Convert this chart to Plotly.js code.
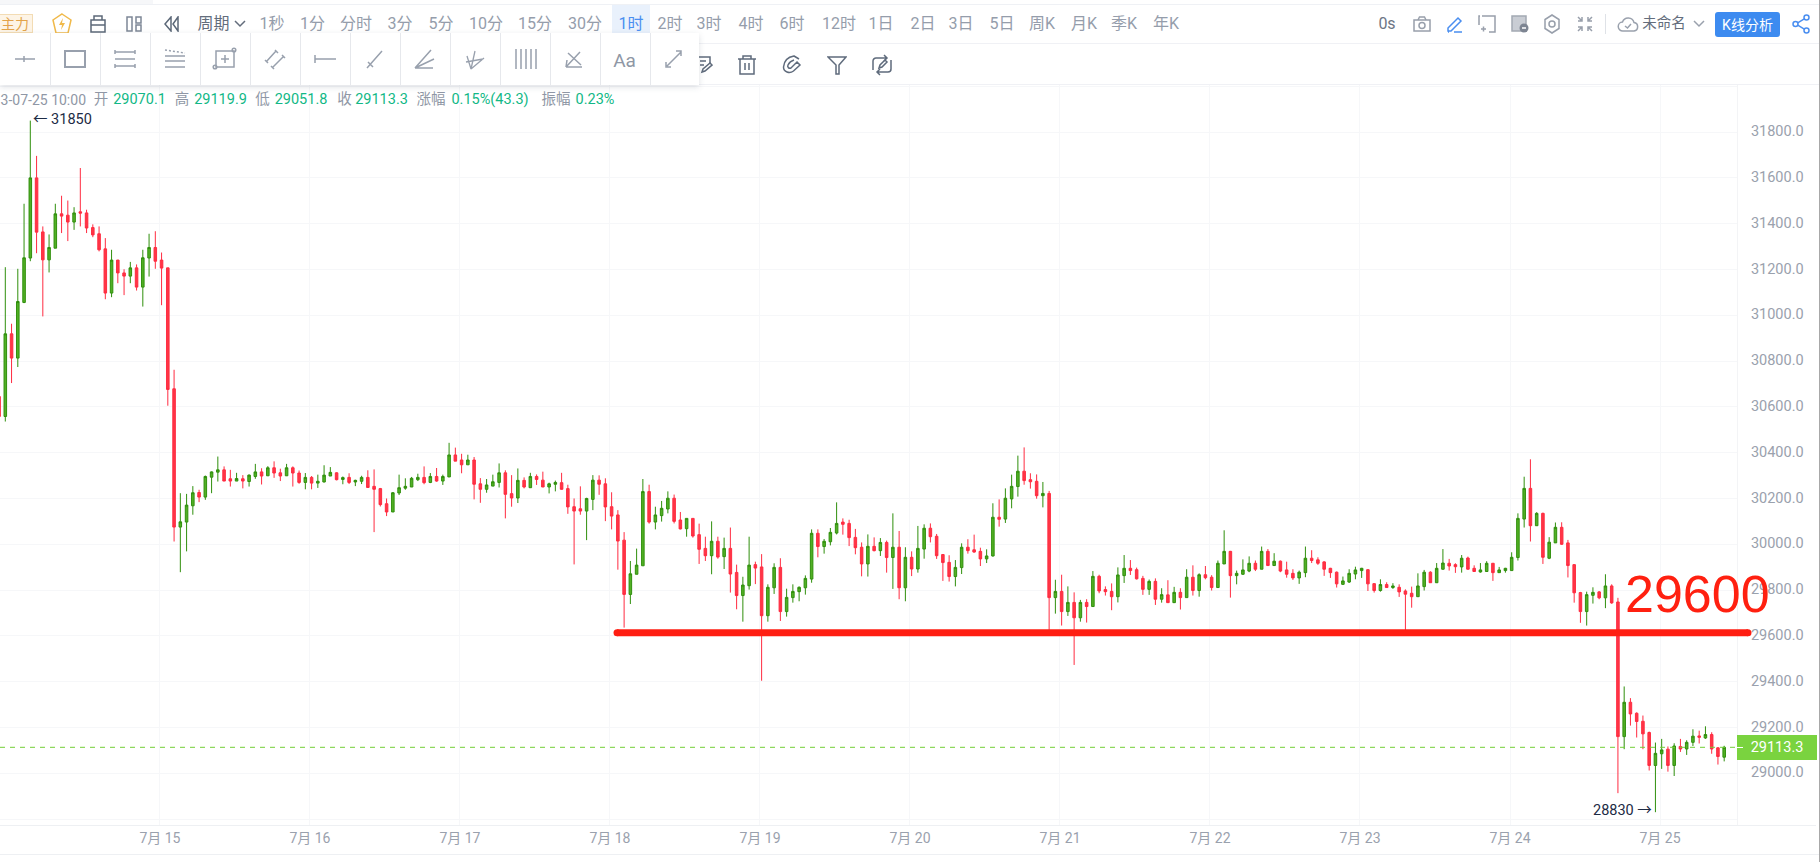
<!DOCTYPE html>
<html><head><meta charset="utf-8">
<script src="https://cdn.plot.ly/plotly-3.0.1.min.js"></script>
<style>
html,body{margin:0;padding:0;background:#fff;width:1820px;height:862px;overflow:hidden;font-family:Roboto,"Noto Sans CJK SC",sans-serif}
#chart{position:absolute;left:0;top:0;width:1820px;height:862px}
#ui{position:absolute;left:0;top:0;width:1820px;height:862px;pointer-events:none}
.t{position:absolute;white-space:nowrap;transform:translate(-50%,-50%);line-height:1}
.b{position:absolute}
.i{position:absolute;transform:translate(-50%,-50%);display:block}
</style></head><body>
<div id="chart"></div><div id="ui"></div>
<script>
// ---- hourly candles, first one 2023-07-13 22:00, last one 2023-07-25 10:00 ----
var firstHour = Date.UTC(2023, 6, 13, 22);
var openPrices = [
30645,30558,30919,30813,31056,31250,31600,31364,31242,31293,
31443,31437,31407,31452,31447,31383,31356,31290,31097,31241,
31185,31171,31207,31123,31250,31296,31241,31207,30679,30075,
30097,30168,30226,30206,30293,30315,30325,30286,30276,30286,
30274,30296,30316,30299,30334,30312,30299,30334,30311,30270,
30292,30267,30272,30298,30312,30283,30292,30272,30275,30292,
30253,30243,30177,30141,30224,30245,30250,30282,30292,30270,
30296,30276,30294,30390,30368,30347,30368,30264,30240,30254,
30270,30312,30221,30202,30279,30247,30296,30280,30250,30262,
30269,30243,30164,30155,30145,30196,30280,30264,30164,30128,
30018,29781,29869,29906,30230,30097,30125,30154,30201,30106,
30068,30113,30042,29982,29950,30013,29946,29982,29877,29776,
29819,29911,29901,29688,29810,29899,29706,29767,29793,29810,
29848,30048,29990,30011,30049,30097,30091,30030,29987,29914,
29991,29972,30008,29942,29987,29810,29943,29892,29979,30070,
30035,29955,29921,29859,29898,29987,29976,29969,29936,29949,
30118,30110,30198,30252,30319,30282,30275,30212,30222,29767,
29794,29706,29746,29679,29746,29728,29860,29802,29794,29771,
29863,29895,29889,29851,29803,29838,29760,29779,29745,29790,
29767,29856,29798,29867,29856,29811,29914,29969,29863,29869,
29883,29917,29891,29969,29907,29926,29888,29873,29853,29876,
29939,29932,29923,29895,29878,29825,29835,29870,29885,29889,
29828,29798,29824,29811,29812,29796,29786,29771,29815,29878,
29832,29891,29917,29911,29901,29940,29895,29879,29881,29917,
29876,29885,29885,29942,30110,30244,30081,30135,29939,30006,
30074,30006,29911,29789,29706,29777,29792,29766,29818,29748,
29160,29310,29262,29227,29178,29034,29085,29105,29034,29117,
29106,29135,29163,29154,29169,29111,29070.1];
var highPrices = [
30660,31210,30963,31203,31487,31850,31696,31388,31353,31487,
31522,31501,31472,31643,31461,31397,31388,31337,31286,31242,
31201,31233,31222,31286,31356,31367,31274,31207,30762,30223,
30220,30254,30238,30300,30318,30383,30340,30325,30312,30302,
30305,30351,30332,30341,30362,30330,30351,30340,30322,30311,
30298,30304,30345,30337,30314,30296,30310,30282,30299,30323,
30327,30246,30200,30228,30304,30288,30294,30308,30340,30311,
30333,30304,30443,30422,30395,30391,30381,30289,30285,30304,
30353,30323,30302,30331,30292,30312,30305,30317,30269,30278,
30312,30260,30200,30253,30203,30302,30301,30288,30227,30149,
30053,29927,29981,30285,30260,30164,30189,30231,30217,30141,
30113,30113,30090,30033,30100,30033,30029,30073,29911,29858,
30033,29924,29957,29825,29917,29939,29806,29825,29816,29864,
30065,30065,30023,30071,30183,30113,30107,30067,30008,30043,
30030,30027,30016,30135,30058,29987,29969,30080,30087,30091,
30045,29957,29952,29931,30004,30022,30042,29985,29978,30179,
30196,30244,30304,30387,30423,30310,30305,30272,30233,29845,
29867,29816,29790,29757,29760,29883,29867,29816,29829,29899,
29953,29931,29898,29862,29846,29851,29808,29843,29814,29808,
29891,29908,29873,29905,29865,29929,30061,29971,29885,29934,
29947,29929,29990,29979,29961,29929,29924,29891,29885,29990,
29974,29943,29926,29897,29881,29859,29891,29902,29897,29891,
29830,29847,29834,29830,29825,29803,29815,29873,29888,29882,
29918,29979,29936,29917,29953,29946,29908,29918,29926,29918,
29901,29897,29965,30135,30295,30371,30140,30138,30031,30095,
30096,30019,29913,29792,29793,29812,29796,29869,29825,29766,
29379,29328,29266,29252,29182,29134,29150,29117,29131,29150,
29144,29192,29186,29205,29179,29114,29119.9];
var lowPrices = [
30540,30536,30704,30774,31053,31236,31271,30995,31187,31293,
31359,31324,31373,31388,31359,31341,31279,31070,31079,31140,
31088,31140,31108,31038,31169,31203,31044,30605,30012,29878,
29969,30129,30184,30194,30223,30274,30276,30252,30276,30244,
30252,30286,30261,30298,30290,30276,30298,30252,30264,30240,
30240,30246,30270,30298,30279,30262,30263,30254,30263,30246,
30053,30165,30123,30141,30215,30238,30250,30276,30262,30267,
30273,30259,30294,30363,30310,30347,30196,30181,30225,30254,
30248,30113,30164,30180,30244,30246,30259,30250,30222,30231,
30238,30133,29912,30129,30018,30149,30216,30101,30065,29889,
29636,29739,29869,29906,30090,30065,30099,30135,30091,30065,
30033,30029,29914,29927,29869,29937,29892,29789,29716,29662,
29802,29826,29404,29662,29783,29665,29684,29745,29751,29780,
29832,29943,29959,29995,30043,30042,29992,29956,29860,29859,
29969,29949,29876,29805,29760,29751,29861,29876,29937,30008,
29936,29840,29837,29816,29870,29959,29963,29905,29918,29946,
30077,30093,30157,30208,30260,30243,30199,30161,29626,29697,
29645,29687,29473,29662,29658,29728,29786,29776,29712,29746,
29831,29866,29846,29779,29779,29735,29745,29744,29744,29715,
29767,29776,29771,29847,29798,29811,29914,29767,29825,29866,
29878,29883,29891,29905,29905,29878,29854,29844,29827,29856,
29918,29910,29862,29853,29811,29822,29831,29847,29853,29796,
29789,29793,29809,29805,29770,29623,29723,29771,29798,29831,
29831,29889,29885,29875,29876,29889,29879,29876,29879,29840,
29875,29876,29885,29929,30073,30012,30080,29914,29935,30006,
29997,29855,29745,29657,29645,29741,29760,29721,29740,28913,
29105,29208,29156,29105,29012,28830,29019,29007,28988,29093,
29080,29119,29130,29150,29085,29038,29051.8];
var closePrices = [
30558,30919,30813,31060,31251,31600,31363,31242,31296,31443,
31433,31407,31447,31446,31381,31351,31286,31097,31241,31185,
31171,31207,31123,31251,31296,31236,31206,30676,30075,30098,
30171,30225,30206,30296,30316,30325,30276,30276,30287,30276,
30302,30316,30298,30334,30311,30298,30334,30311,30270,30292,
30267,30275,30302,30314,30282,30291,30270,30279,30292,30248,
30240,30173,30141,30225,30247,30253,30288,30292,30269,30296,
30276,30296,30390,30363,30347,30368,30262,30240,30259,30273,
30312,30218,30202,30279,30250,30296,30283,30250,30264,30270,
30240,30163,30145,30145,30200,30280,30262,30163,30123,30014,
29781,29871,29909,30230,30097,30128,30157,30201,30100,30067,
30113,30036,29978,29950,30013,29944,29982,29870,29776,29822,
29909,29896,29688,29812,29899,29706,29768,29794,29812,29851,
30048,29990,30013,30052,30091,30087,30029,29985,29914,29991,
29972,30008,29942,29987,29810,29943,29892,29982,30070,30033,
29950,29920,29859,29899,29987,29972,29966,29936,29949,30118,
30109,30201,30253,30319,30278,30273,30212,30222,29767,29794,
29706,29746,29679,29746,29728,29860,29796,29793,29771,29866,
29895,29885,29849,29803,29838,29760,29780,29745,29790,29767,
29856,29798,29867,29854,29811,29917,29969,29863,29873,29888,
29917,29891,29969,29907,29926,29883,29869,29853,29878,29939,
29929,29917,29891,29876,29827,29840,29873,29888,29895,29827,
29798,29824,29811,29818,29792,29782,29771,29818,29878,29832,
29895,29918,29905,29902,29939,29891,29881,29888,29917,29876,
29888,29895,29943,30113,30244,30081,30135,29943,30009,30074,
30000,29907,29788,29706,29780,29790,29766,29818,29744,29160,
29310,29259,29226,29172,29034,29087,29102,29034,29119,29106,
29135,29162,29157,29169,29106,29073,29113.3];

var priceTicks = [28800,29000,29200,29400,29600,29800,30000,30200,30400,30600,30800,31000,31200,31400,31600,31800,32000];
var priceLabels = ['','29000.0','29200.0','29400.0','29600.0','29800.0','30000.0','30200.0','30400.0','30600.0','30800.0','31000.0','31200.0','31400.0','31600.0','31800.0',''];
var dayTicks = ['2023-07-14 23:44','2023-07-15 23:44','2023-07-16 23:44','2023-07-17 23:44','2023-07-18 23:44','2023-07-19 23:44','2023-07-20 23:44','2023-07-21 23:44','2023-07-22 23:44','2023-07-23 23:44','2023-07-24 23:44'];
var dayLabels = ['7月 15','7月 16','7月 17','7月 18','7月 19','7月 20','7月 21','7月 22','7月 23','7月 24','7月 25'];
var lastPrice = 29113.3, supportLevel = 29614, supportLabel = '29600';
var peakTime = '2023-07-14 03:00', peakPrice = 31850, troughTime = '2023-07-25 00:00', troughPrice = 28830;

var periods = ['1秒','1分','分时','3分','5分','10分','15分','30分','1时','2时','3时','4时','6时','12时','1日','2日','3日','5日','周K','月K','季K','年K'];
var infoLine = [['开','29070.1'],['高','29119.9'],['低','29051.8'],['收','29113.3'],['涨幅','0.15%(43.3)'],['振幅','0.23%']];

var times = openPrices.map(function(_, i){ return new Date(firstHour + i * 3600000).toISOString(); });

var FONT = 'Roboto, "Noto Sans CJK SC", sans-serif';
var GREY = '#9aa1ad', GRID = '#f6f7f9';
var W = 1737;

var trace = {
  type:'candlestick', x:times, open:openPrices, high:highPrices, low:lowPrices, close:closePrices,
  increasing:{line:{color:'#2f8f0c',width:1}, fillcolor:'#52b025'},
  decreasing:{line:{color:'#ff2b40',width:1}, fillcolor:'#ff3646'},
  whiskerwidth:0, hoverinfo:'skip'
};
var layout = {
  width:1820, height:862, margin:{l:0,r:83,t:85,b:37,pad:0},
  paper_bgcolor:'#fff', plot_bgcolor:'#fff', showlegend:false, boxgap:0.42, hovermode:false, dragmode:false,
  font:{family:FONT,color:GREY,size:14.5},
  xaxis:{type:'date', range:['2023-07-13 22:09','2023-07-25 12:03'], rangeslider:{visible:false},
    tickmode:'array', tickvals:dayTicks, ticktext:dayLabels, ticks:'', ticklen:0, ticklabelstandoff:3,
    showgrid:true, gridcolor:GRID, gridwidth:1, zeroline:false, showline:false,
    tickfont:{family:FONT,color:GREY,size:14}},
  yaxis:{side:'right', range:[28774,32005.6], tickmode:'array', tickvals:priceTicks, ticktext:priceLabels, ticks:'',
    showgrid:true, gridcolor:GRID, gridwidth:1, zeroline:false, showline:true, linecolor:'#f3f4f6', linewidth:1,
    ticklabelstandoff:10, ticklabelshift:-1, fixedrange:true,
    tickfont:{family:FONT,color:GREY,size:14.5}},
  shapes:[
    {type:'line', xref:'paper', x0:0, x1:1, yref:'y', y0:lastPrice, y1:lastPrice, line:{color:'#72cf36',width:1,dash:'5px,5px'}, layer:'above'},
    {type:'line', xref:'paper', x0:617/W, x1:1748/W, yref:'y', y0:supportLevel, y1:supportLevel, line:{color:'#ff1e12',width:7}, layer:'above'},
    {type:'circle', xref:'paper', yref:'y', xsizemode:'pixel', ysizemode:'pixel', xanchor:617/W, yanchor:supportLevel, x0:-3.5,x1:3.5,y0:-3.5,y1:3.5, fillcolor:'#ff1e12', line:{width:0}},
    {type:'circle', xref:'paper', yref:'y', xsizemode:'pixel', ysizemode:'pixel', xanchor:1748/W, yanchor:supportLevel, x0:-3.5,x1:3.5,y0:-3.5,y1:3.5, fillcolor:'#ff1e12', line:{width:0}}
  ],
  annotations:[
    {xref:'x', yref:'y', x:peakTime, y:peakPrice, text:'← 31850', showarrow:false, xanchor:'left', yanchor:'middle', xshift:1, yshift:1, font:{family:FONT,size:14.5,color:'#1d2b45'}},
    {xref:'x', yref:'y', x:troughTime, y:troughPrice, text:'28830 →', showarrow:false, xanchor:'right', yanchor:'middle', xshift:-8, yshift:2, font:{family:FONT,size:14.5,color:'#1d2b45'}},
    {xref:'paper', yref:'y', x:1697/W, y:29783, text:supportLabel, showarrow:false, xanchor:'center', yanchor:'middle', font:{family:'"Liberation Sans", Arial, sans-serif',size:52,color:'#ff2010'}},
    {xref:'paper', yref:'y', x:1, y:lastPrice, xanchor:'left', yanchor:'middle', text:String(lastPrice), showarrow:false, width:80, height:25, align:'center', valign:'middle', bgcolor:'#7ad33f', font:{family:FONT,size:14.5,color:'#fff'}, borderpad:0, borderwidth:0}
  ]
};
Plotly.newPlot('chart',[trace],layout,{displayModeBar:false,staticPlot:true});

// ---- application chrome around the chart ----
var ui = document.getElementById('ui');
function box(x,y,w,h,css){var d=document.createElement('div');d.className='b';d.style.cssText='left:'+x+'px;top:'+y+'px;width:'+w+'px;height:'+h+'px;'+(css||'');ui.appendChild(d);return d;}
function txt(s,x,y,size,color,extra){var d=document.createElement('div');d.className='t';d.textContent=s;d.style.cssText='left:'+x+'px;top:'+y+'px;font-size:'+size+'px;color:'+color+';'+(extra||'');ui.appendChild(d);return d;}
function ico(x,y,w,h,body,stroke){var n=document.createElement('div');n.className='i';n.style.left=x+'px';n.style.top=y+'px';
  n.innerHTML='<svg width="'+w+'" height="'+h+'" viewBox="0 0 '+w+' '+h+'" fill="none" stroke="'+stroke+'" stroke-width="1.5">'+body+'</svg>';
  n.style.lineHeight=0;ui.appendChild(n);}

box(0,0,153,4,'background:#f6f7f9');
box(0,4,1820,1,'background:#eff1f5');
box(0,43,1820,1,'background:#f0f1f5');
box(0,84,1820,1,'background:#f0f1f5');
box(1736,747,7,1,'background:#fff');
box(1737,825,79,1,'background:#eef0f3');
box(0,825,1737,1,'background:#eef0f3');
box(0,854,1820,1,'background:#eef0f3');
box(1819,0,1,862,'background:#a8a8a8');

// first row
box(0,14,33,19,'background:#fdf4e6;border:1px solid #f3dcb4;border-left:none;box-sizing:border-box');
txt('主力',15,24,14,'#e3a34a');
ico(62,24,22,24,'<path d="M11 2 20 8 17 21H5L2 8Z" stroke="#f0b94a"/><path d="M12 6 8 13h3l-1 5 4-7h-3z" fill="#f0b94a" stroke="none"/>','#f0b94a');
ico(98,24,16,18,'<rect x="1" y="5" width="14" height="12"/><path d="M1 10h14M4 5V1h8v4"/>','#5c6878');
ico(134,24,16,16,'<rect x="1" y="1" width="5" height="14"/><rect x="10" y="1" width="5" height="6"/><rect x="10" y="9" width="5" height="6"/>','#7d8796');
ico(171,24,16,16,'<path d="M8 1 2 8l6 7zM15 1 10 8l5 7z"/>','#5c6878');
txt('周期',213.5,24,16,'#636d7c');
ico(240,24,12,8,'<path d="M1 1l5 5 5-5"/>','#636d7c');
box(612,5,38,29,'background:#e9f1fc');
var periodX = [272,312.5,356,400,441,486,535,585,631,670,709,751,792,839,881,923,961,1002,1042,1084,1124,1166];
periods.forEach(function(p,i){ txt(p,periodX[i],24,16,p==='1时'?'#4a8ef0':'#959dab'); });

// right side of first row
txt('0s',1387,24,16,'#6d7684');
ico(1422,24,18,16,'<rect x="1" y="4" width="16" height="11"/><circle cx="9" cy="9.5" r="3"/><path d="M5 4l1.5-3h5L13 4"/>','#989fab');
ico(1455,24,18,18,'<path d="M2 13 12 3l3 3L5 16H2z M2 17h1M8 17h8" />','#4a8ef0');
ico(1487,24,18,18,'<path d="M4 1h13v16h-6M1 4V1h1M1 10V4M3 14h5M5.5 11.5v5"/>','#989fab');
ico(1520,24,18,18,'<rect x="1" y="1" width="14" height="15" fill="#c9cdd4" stroke="#a3a9b3"/><circle cx="13" cy="13" r="4.5" fill="#7d8592" stroke="none"/><path d="M11 13h4" stroke="#fff"/>','#989fab');
ico(1552,24,16,20,'<path d="M8 1 15 5.5v9L8 19 1 14.5v-9z"/><circle cx="8" cy="10" r="3"/>','#989fab');
ico(1585,24,18,18,'<path d="M2 2l4 4M6 2v4H2M16 2l-4 4M12 2v4h4M2 16l4-4M6 16v-4H2M16 16l-4-4M12 16v-4h4"/>','#989fab');
box(1605,14,1,20,'background:#dfe2e7');
ico(1628,24,22,16,'<path d="M6 15a4.5 4.5 0 0 1-.5-9A6 6 0 0 1 17 6.5 4.3 4.3 0 0 1 17 15z"/><path d="M8 10l2.5 2 3.5-4"/>','#9aa1ad');
txt('未命名',1664,24,14.5,'#636d7c');
ico(1699,24,12,8,'<path d="M1 1l5 5 5-5"/>','#9aa1ad');
box(1715,12,65,25,'background:#3d8bf0;border-radius:3px');
txt('K线分析',1747.5,24.5,14,'#fff');
ico(1801,24,18,20,'<circle cx="14.5" cy="3.5" r="2.5"/><circle cx="14.5" cy="16.5" r="2.5"/><circle cx="3.5" cy="10" r="2.5"/><path d="M5.7 8.8l6.6-4M5.7 11.2l6.6 4"/>','#4a8ef0');

// second row
ico(705,65,16,18,'<path d="M1 1h12v6M1 1v16M3 5h6M3 9h4"/><path d="M5 16l1-3 7-6 2 2-7 6z"/>','#5f6b7c');
ico(747,65,20,20,'<path d="M1 4h18M6 4V1h8v3M3 4v15h14V4M8 8v7M12 8v7"/>','#5f6b7c');
ico(792,65,20,20,'<path d="M17 4 12 1C6 2 2 6 1.5 12c0 5 6 7 10 4L18 10l-3-3-6 6c-2 1-4-1-3-3 1-2 3-4 6-5M12 1l5 3M15 7l3 3"/>','#5f6b7c');
ico(837,65,20,20,'<path d="M1 2h18l-7 8v9h-3v-9z"/>','#5f6b7c');
ico(882,65,20,22,'<path d="M15 4H4a3 3 0 0 0-3 3v9M5 18h11a3 3 0 0 0 3-3V6M12 1l3 3-3 3M8 15l-3 3 3 3"/><path d="M7 14l1-3 5-5 2 2-5 5z"/>','#5f6b7c');

// drawing-tool popover
var pop = box(0,33,699,52,'background:#fff;box-shadow:0 2px 6px rgba(80,90,110,.18)');
for(var k=1;k<=13;k++){ box(k*50-0.5,33,1,52,'background:#e6e8ec'); }
var toolIcons = [
 '<path d="M3 12h20M12 9v6"/>',
 '<rect x="3" y="4" width="20" height="16" stroke-width="2"/>',
 '<path d="M3 5h20M3 12h20M3 19h20M3 3v4M23 3v4M3 17v4M23 17v4"/>',
 '<path d="M3 3l20 3" stroke-dasharray="2 2"/><path d="M3 9h20M3 14h20M3 20h20"/>',
 '<rect x="4" y="4" width="18" height="16"/><path d="M13 8v8M9 12h8"/><circle cx="22" cy="3" r="1.8"/><circle cx="3" cy="20" r="1.8"/>',
 '<path d="M4 15 14 4M10 21 21 10M3 13l3 3M13 3l3 3M9 19l3 3M20 8l3 3"/>',
 '<path d="M3 8v8M3 12h21"/>',
 '<path d="M5 21 20 4M6 15l5 5"/>',
 '<path d="M3 21 19 3M3 21 22 12M3 21h18"/>',
 '<path d="M9 22 5 9M9 22 13 4M9 22 22 11M4 15l17-3" stroke-width="1.3"/>',
 '<path d="M4 2v20M9 2v20M14 2v20M19 2v20M24 2v20"/>',
 '<path d="M4 20h16M4 20 18 5M6 6l13 12M4 20l1-7"/>'
];
toolIcons.forEach(function(b,i){ ico(24.5+i*50,59,26,24,b,'#98a0ad'); });
txt('Aa',624.5,59.5,19,'#8f97a5');
ico(674,59,22,22,'<path d="M4 18 18 4M13 3l5 0v5M3 14v5h5"/>','#98a0ad');

// info line
txt('3-07-25 10:00',86,100,14,'#8f97a5','transform:translate(-100%,-50%)');
var labelX = [[101,139.5],[182,220.5],[262.5,301],[344.5,381.5],[431,490],[556,595]];
infoLine.forEach(function(pair,i){
  txt(pair[0],labelX[i][0],100,14.5,'#8f97a5');
  txt(pair[1],labelX[i][1],100,14.5,'#12b886');
});
</script>
</body></html>
